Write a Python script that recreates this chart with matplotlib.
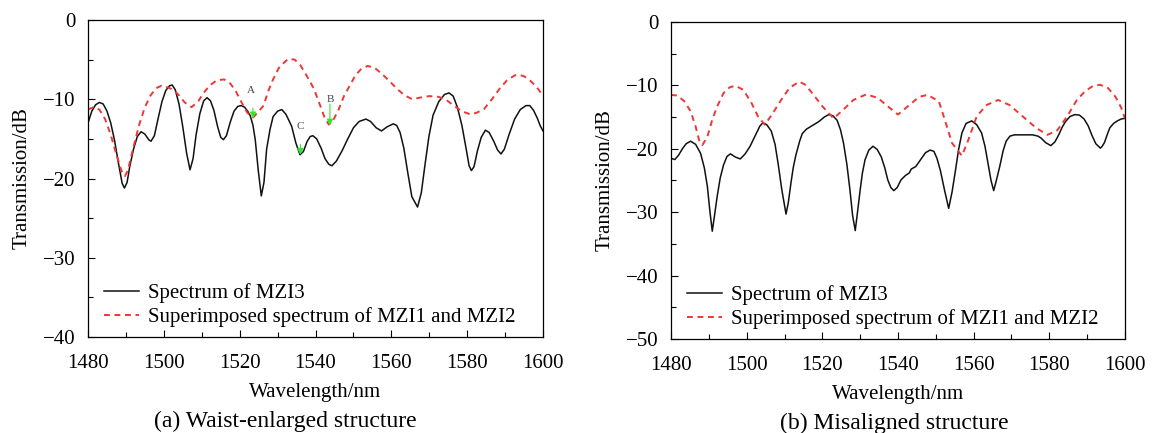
import matplotlib
matplotlib.use("Agg")
import matplotlib.pyplot as plt
from matplotlib.ticker import MultipleLocator

plt.rcParams['font.family'] = ['Liberation Serif', 'DejaVu Serif']

# (a) waist-enlarged structure
wl_a_mzi3 = [1480, 1481, 1482, 1483, 1484, 1485, 1486, 1487, 1488, 1489, 1489.6, 1490.3,
             1491, 1492, 1493, 1494, 1495, 1496, 1496.6, 1497.5, 1498.5, 1499.5, 1500.5,
             1501.5, 1502.2, 1503, 1504, 1505, 1506, 1506.9, 1507.7, 1508.5, 1509.5, 1510.5,
             1511.4, 1512.3, 1513.2, 1514.2, 1515, 1515.7, 1516.5, 1517.5, 1518.5, 1519.5,
             1520.4, 1521.3, 1522.1, 1522.8, 1523.5, 1524.1, 1524.9, 1525.7, 1526.4, 1527.1,
             1528, 1528.8, 1530, 1531.1, 1532.2, 1533.7, 1534.8, 1535.9, 1536.8, 1537.8,
             1538.6, 1539.3, 1540.3, 1541.5, 1542.5, 1543.5, 1544.3, 1545.5, 1547, 1548.5,
             1550, 1551.5, 1553.3, 1554.5, 1556, 1557.4, 1558.8, 1560.5, 1561.4, 1562.3,
             1563.3, 1564.3, 1565.4, 1566.9, 1567.9, 1568.8, 1569.9, 1571, 1572.5, 1574,
             1575.2, 1576.3, 1577.4, 1578.6, 1579.7, 1580.5, 1581.1, 1581.8, 1582.7, 1583.7,
             1584.8, 1585.8, 1587, 1588, 1588.9, 1589.8, 1591, 1592.5, 1594, 1595.5, 1596.5,
             1597.5, 1598.5, 1599.3, 1600]
db_a_mzi3 = [-13.0, -11.5, -10.7, -10.4, -10.6, -11.5, -13.0, -15.2, -18.0, -20.6, -21.2, -20.5,
             -18.5, -16.3, -14.7, -14.1, -14.4, -15.1, -15.3, -14.6, -12.4, -10.3, -8.9,
             -8.3, -8.2, -8.8, -10.6, -13.5, -16.8, -18.9, -17.5, -14.5, -11.8, -10.2,
             -9.8, -10.2, -11.4, -13.5, -14.8, -15.1, -14.6, -12.9, -11.5, -10.9,
             -10.8, -11.0, -11.5, -12.1, -13.3, -15.1, -19.0, -22.2, -20.5, -16.3,
             -13.8, -12.2, -11.5, -11.3, -11.9, -13.4, -15.5, -17.0, -16.6, -15.3,
             -14.7, -14.6, -15.0, -16.2, -17.5, -18.2, -18.4, -17.8, -16.5, -15.0,
             -13.6, -12.8, -12.5, -12.8, -13.6, -14.0, -13.5, -13.1, -13.3, -14.2,
             -16.2, -19.2, -22.3, -23.6, -21.8, -18.5, -14.7, -12.0, -10.3, -9.4,
             -9.2, -9.6, -11.0, -13.3, -16.2, -18.4, -19.0, -18.5, -16.5, -14.8,
             -13.9, -14.2, -15.3, -16.4, -16.9, -16.3, -14.5, -12.5, -11.3, -10.8, -10.8,
             -11.4, -12.4, -13.4, -14.0]

wl_a_sum = [1480, 1481.5, 1483, 1484.5, 1486, 1487.5, 1489, 1489.7, 1490.5, 1492, 1493.5,
            1495, 1496.5, 1498, 1499.3, 1501, 1502.5, 1504, 1505.5, 1507.3, 1509, 1510.5,
            1512, 1514, 1515.9, 1517.5, 1519, 1520.5, 1522, 1523.5, 1524.5, 1526.3, 1527.5,
            1528.8, 1530.5, 1532.8, 1534.5, 1536, 1537.5, 1539.5, 1541, 1542.3, 1543.5,
            1544.7, 1546, 1547.5, 1549, 1550.5, 1552, 1553.7, 1555.5, 1557.5, 1559.5, 1561.5,
            1563.5, 1565.5, 1567.5, 1570, 1572.5, 1574.5, 1576.5, 1578.5, 1580.8, 1582.5,
            1584.5, 1586.5, 1588.5, 1590.5, 1592.5, 1593.5, 1595, 1596.5, 1598, 1599, 1600]
db_a_sum = [-11.3, -11.0, -11.3, -12.5, -14.5, -17.0, -19.3, -19.7, -19.0, -16.0, -13.2,
            -11.0, -9.5, -8.6, -8.3, -8.5, -8.8, -9.5, -10.4, -11.0, -10.3, -9.2,
            -8.3, -7.6, -7.5, -8.0, -9.0, -10.4, -11.7, -12.3, -11.8, -10.8, -9.0,
            -7.5, -5.9, -4.9, -5.0, -5.7, -6.9, -8.6, -10.5, -12.2, -13.2,
            -12.6, -11.4, -9.6, -8.3, -7.0, -6.2, -5.8, -6.0, -6.8, -7.7, -8.7,
            -9.5, -10.0, -9.8, -9.6, -9.7, -10.1, -10.8, -11.5, -11.9, -11.7,
            -11.2, -10.0, -8.7, -7.6, -7.0, -6.9, -7.1, -7.6, -8.3, -8.9, -9.6]

# (b) misaligned structure
wl_b_mzi3 = [1480, 1481, 1482, 1483, 1484, 1485.2, 1486.5, 1487.8, 1488.8, 1489.6, 1490.3,
             1490.9, 1491.5, 1492.2, 1493, 1493.9, 1494.8, 1495.7, 1497, 1498.3, 1499.6,
             1500.9, 1502.6, 1503.5, 1504.3, 1505.3, 1506.5, 1507.5, 1508.3, 1509.3, 1510.4,
             1511, 1511.7, 1512.3, 1513, 1514, 1514.7, 1515.8, 1516.9, 1519.1, 1520.5,
             1521.7, 1522.8, 1523.9, 1524.8, 1525.6, 1526.5, 1527.3, 1528, 1528.7, 1529.3,
             1530, 1530.6, 1531.3, 1532.3, 1533.4, 1534.5, 1535.6, 1536.5, 1537.3, 1538.1,
             1538.9, 1539.8, 1540.8, 1542, 1543, 1543.5, 1544.7, 1546, 1547.3, 1548.5,
             1549.5, 1550.3, 1551.2, 1552.3, 1553.4, 1554.3, 1555.2, 1556, 1556.9, 1558,
             1559.5, 1560.8, 1562.1, 1563, 1563.8, 1564.6, 1565.3, 1566, 1566.9, 1567.8,
             1568.6, 1569.6, 1570.8, 1573, 1575.6, 1577, 1577.8, 1579, 1580.4, 1581.5,
             1582.5, 1583.4, 1584.3, 1585.5, 1586.8, 1588, 1589.2, 1590.3, 1591.3, 1592.3,
             1593, 1593.5, 1594, 1594.6, 1595.3, 1596, 1597, 1598, 1599, 1600]
db_b_mzi3 = [-21.5, -21.7, -21.0, -20.0, -19.2, -18.8, -19.3, -20.7, -23.0, -25.9, -30.0,
             -33.0, -30.5, -27.5, -24.6, -22.5, -21.2, -20.8, -21.3, -21.6, -20.8,
             -19.6, -17.5, -16.4, -15.9, -16.2, -17.2, -19.3, -22.3, -26.5, -30.3,
             -28.5, -25.4, -23.0, -21.0, -18.8, -17.6, -16.9, -16.5, -15.7, -15.0,
             -14.6, -14.8, -15.5, -17.0, -19.1, -22.5, -26.5, -30.5, -32.9, -30.0,
             -26.5, -23.8, -21.7, -20.2, -19.6, -20.1, -21.3, -23.0, -24.9, -26.1,
             -26.6, -26.1, -24.9, -24.2, -23.8, -23.2, -22.8, -21.7, -20.6, -20.2,
             -20.4, -21.5, -23.4, -26.5, -29.4, -26.8, -23.4, -20.2, -17.5, -16.0,
             -15.6, -16.2, -17.5, -19.6, -22.3, -25.0, -26.6, -25.0, -22.8, -20.3,
             -18.8, -18.0, -17.8, -17.8, -17.8, -18.0, -18.3, -19.0, -19.5, -18.9,
             -17.8, -16.6, -15.7, -14.9, -14.6, -14.7, -15.3, -16.4, -17.9, -19.2,
             -19.6, -19.9, -19.6, -19.0, -17.8, -16.7, -16.0, -15.6, -15.3, -15.2]

wl_b_sum = [1480, 1481.7, 1483.5, 1485.2, 1486.5, 1487.4, 1488.3, 1489.6, 1490.9, 1492.2,
            1493.9, 1495.5, 1497, 1499.1, 1501.3, 1503, 1504.8, 1506.9, 1509.1, 1511.3,
            1513.9, 1515.5, 1517.3, 1520, 1523, 1525.6, 1528.2, 1531.7, 1534.7, 1537.3,
            1540, 1543, 1545.6, 1547.8, 1550.8, 1552.1, 1554.3, 1556.9, 1558.6, 1560.8,
            1563.4, 1566.5, 1569.5, 1573, 1576.5, 1579.5, 1582.1, 1584.7, 1587.3, 1589.5,
            1591.5, 1593.4, 1595.5, 1597.5, 1599, 1600]
db_b_sum = [-11.5, -11.6, -12.5, -14.1, -16.5, -18.6, -19.4, -18.1, -15.4, -13.3,
            -11.2, -10.3, -10.05, -10.7, -12.8, -14.9, -16.2, -14.4, -12.3, -10.4,
            -9.4, -9.9, -11.2, -13.3, -15.2, -13.8, -12.3, -11.4, -12.0, -13.3,
            -14.6, -13.1, -11.8, -11.5, -12.5, -14.9, -19.1, -21.1, -18.6, -14.9,
            -13.1, -12.3, -13.1, -14.9, -16.7, -17.8, -17.1, -14.9, -12.3, -10.9,
            -10.1, -9.9, -10.4, -11.8, -13.5, -15.2]

# marked points A, B, C in panel (a): label position, arrow tail, arrow tip
mark_names = ['A', 'B', 'C']
mark_label = [(1523.0, -8.9), (1543.8, -10.0), (1535.9, -13.5)]
mark_tail = [(1523.5, -11.1), (1543.8, -10.6), (1536.0, -15.7)]
mark_tip = [(1523.5, -12.4), (1543.8, -13.3), (1536.0, -17.0)]

legend_labels = ['Spectrum of MZI3', 'Superimposed spectrum of MZI1 and MZI2']

fig = plt.figure(figsize=(11.52, 4.33), dpi=100)
ax1 = fig.add_axes([0.0764, 0.2217, 0.395, 0.7321])
ax2 = fig.add_axes([0.5825, 0.2171, 0.394, 0.7321])

red = '#f03535'
dash = (0, (3.0, 2.4))

ax1.plot(wl_a_mzi3, db_a_mzi3, color='#111111', lw=1.1, label=legend_labels[0])
ax1.plot(wl_a_sum, db_a_sum, color=red, lw=1.4, linestyle=dash, label=legend_labels[1])
ax2.plot(wl_b_mzi3, db_b_mzi3, color='#111111', lw=1.1, label=legend_labels[0])
ax2.plot(wl_b_sum, db_b_sum, color=red, lw=1.4, linestyle=dash, label=legend_labels[1])

for name, lab, tail, tip in zip(mark_names, mark_label, mark_tail, mark_tip):
    ax1.text(lab[0], lab[1], name, fontsize=8, color='#444444', ha='center', va='center')
    ax1.annotate('', xy=tip, xytext=tail,
                 arrowprops=dict(arrowstyle='-|>', color='#2ee82e', lw=0.8,
                                 mutation_scale=9, shrinkA=0, shrinkB=0))

for ax, ymin in [(ax1, -40), (ax2, -50)]:
    ax.set_xlim(1480, 1600)
    ax.set_ylim(ymin, 0)
    ax.xaxis.set_major_locator(MultipleLocator(20))
    ax.xaxis.set_minor_locator(MultipleLocator(10))
    ax.yaxis.set_major_locator(MultipleLocator(10))
    ax.yaxis.set_minor_locator(MultipleLocator(5))
    ax.tick_params(which='both', direction='in', top=False, right=False, width=0.8)
    ax.tick_params(which='major', length=5)
    ax.tick_params(which='minor', length=3.5)
    ax.tick_params(axis='x', which='both', labelsize=15, pad=12.5)
    ax.tick_params(axis='y', which='both', labelsize=15, pad=9)
    for s in ax.spines.values():
        s.set_linewidth(0.9)
    ax.set_xlabel('Wavelength/nm', fontsize=15, labelpad=7)
    ax.set_ylabel('Transmission/dB', fontsize=15, labelpad=8)
    ax.legend(loc='lower left', bbox_to_anchor=(0.035, 0.03), frameon=False,
              fontsize=15, handlelength=1.7, handletextpad=0.4, labelspacing=0.2,
              borderpad=0, borderaxespad=0)

fig.text(0.248, 0.027, '(a) Waist-enlarged structure', fontsize=17, ha='center', va='center')
fig.text(0.776, 0.022, '(b) Misaligned structure', fontsize=17, ha='center', va='center')

fig.savefig('out.png', dpi=100)
